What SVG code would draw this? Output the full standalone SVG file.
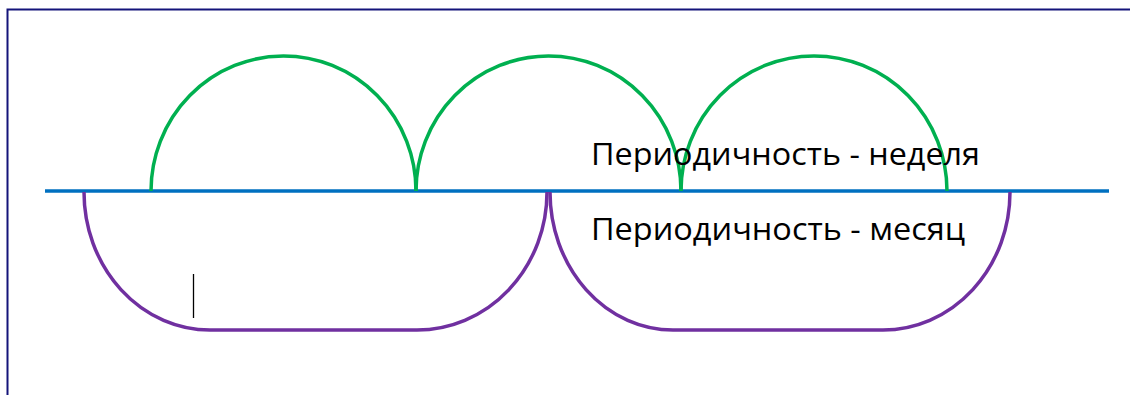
<svg xmlns="http://www.w3.org/2000/svg" width="1130" height="395" viewBox="0 0 1130 395">
<style>
.frame{fill:none;stroke:#14147a;stroke-width:2}
.axis{stroke:#0070C0;stroke-width:3.5;fill:none}
.week{stroke:#00B050;stroke-width:3.5;fill:none}
.month{stroke:#7030A0;stroke-width:3.5;fill:none}
.lbl{font-family:"Open Sans","Noto Sans","DejaVu Sans",sans-serif;font-size:31px;fill:#000000}
</style>
<rect width="1130" height="395" fill="#ffffff"/>
<path class="frame" d="M7.5,395 V9.5 H1130"/>
<g id="connectors">
<line id="axis" class="axis" x1="45" y1="191" x2="1109" y2="191"/>
</g>
<g id="week1"><path class="week" d="M151,191 A132.5,135 0 0 1 416,191"/></g>
<g id="week2"><path class="week" d="M416,191 A132.5,135 0 0 1 681,191"/></g>
<g id="week3"><path class="week" d="M681,191 A133,135 0 0 1 947,191"/></g>
<g id="month1"><path class="month" d="M84,192 A126,138 0 0 0 210,330 H417 A130,138 0 0 0 547,192"/></g>
<g id="month2"><path class="month" d="M550,192 A123,138 0 0 0 673,330 H883 A127,138 0 0 0 1010,192"/></g>
<g id="label-week"><text class="lbl" x="591" y="165" textLength="389" lengthAdjust="spacingAndGlyphs">Периодичность - неделя</text></g>
<g id="label-month"><text class="lbl" x="591" y="240" textLength="374" lengthAdjust="spacingAndGlyphs">Периодичность - месяц</text></g>
<line x1="193.5" y1="274" x2="193.5" y2="318" stroke="#000" stroke-width="1.3"/>
</svg>
